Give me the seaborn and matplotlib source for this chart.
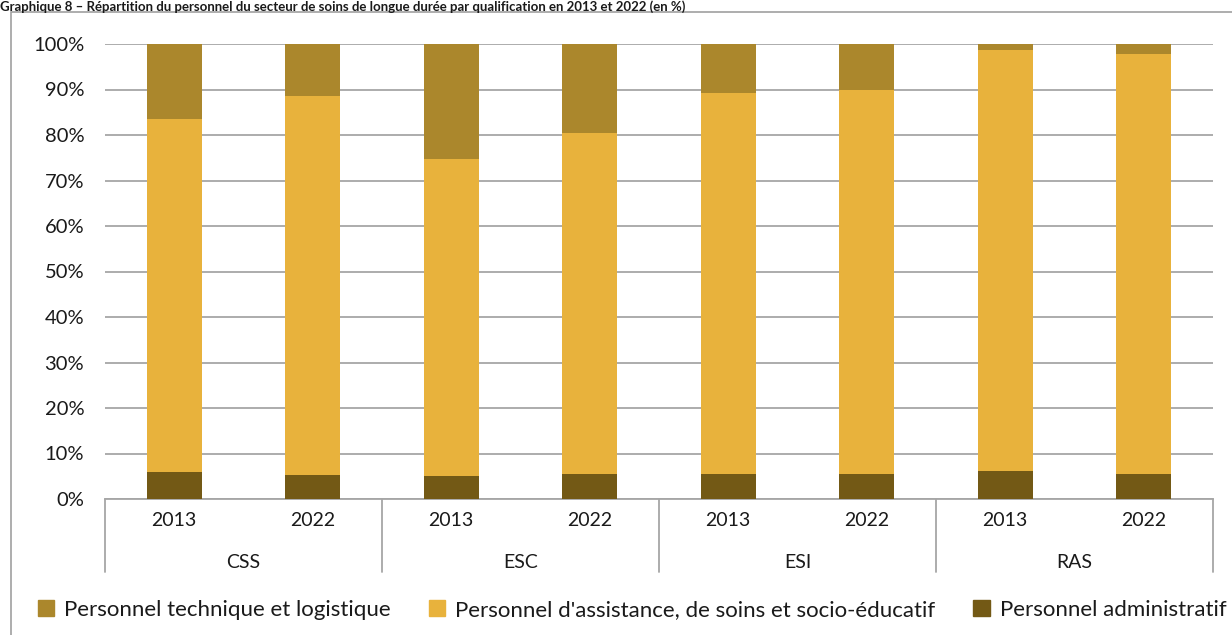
import pandas as pd
import numpy as np
import matplotlib.pyplot as plt
import matplotlib.patches as mpatches
from matplotlib.lines import Line2D
import seaborn as sns

sns.set_theme(style='white')
plt.rcParams['font.family'] = ['Lato', 'DejaVu Sans']

# data (% of staff)
groups = ["CSS", "CSS", "ESC", "ESC", "ESI", "ESI", "RAS", "RAS"]
years = ["2013", "2022", "2013", "2022", "2013", "2022", "2013", "2022"]
admin = [5.9, 5.2, 5.0, 5.5, 5.5, 5.5, 6.2, 5.5]
soins = [77.7, 83.3, 69.8, 74.9, 83.7, 84.4, 92.5, 92.3]
tech = [16.4, 11.5, 25.2, 19.6, 10.8, 10.1, 1.3, 2.2]

series = ["Personnel technique et logistique",
          "Personnel d'assistance, de soins et socio-éducatif",
          "Personnel administratif"]
colors = ["#AB872C", "#E8B23C", "#735915"]

df = pd.DataFrame({"group": groups, "year": years,
                   "admin": admin, "soins": soins, "tech": tech})
df["key"] = df["group"] + "_" + df["year"]
# stacked tops
df["top_admin"] = df["admin"]
df["top_soins"] = df["admin"] + df["soins"]
df["top_tech"] = df["admin"] + df["soins"] + df["tech"]

fig = plt.figure(figsize=(12.32, 6.35), dpi=100)
ax = fig.add_axes([105/1232, 1-499/635, (1213-105)/1232, 455/635])

for col, c in zip(["top_tech", "top_soins", "top_admin"], colors):
    sns.barplot(data=df, x="key", y=col, color=c, width=0.4,
                saturation=1, linewidth=0, ax=ax, zorder=3)

ax.set_ylim(0, 100)
ax.set_xlim(-0.5, len(df) - 0.5)
ax.set_yticks(np.arange(0, 101, 10))
ax.set_yticklabels([f"{v}%" for v in range(0, 101, 10)])
ax.yaxis.grid(True, color="#A6A6A6", lw=1.3, zorder=0)
ax.set_axisbelow(True)
for s in ["left", "right", "top"]:
    ax.spines[s].set_visible(False)
ax.spines["bottom"].set_color("#A6A6A6")
ax.spines["bottom"].set_linewidth(1.3)
ax.tick_params(axis="y", length=0, pad=15, labelsize=14.5, labelcolor="#1a1a1a")
ax.tick_params(axis="x", length=0, pad=9, labelsize=14, labelcolor="#1a1a1a")
ax.set_xticks(range(len(df)))
ax.set_xticklabels(df["year"])
ax.set_xlabel("")
ax.set_ylabel("")

# group labels and separators
trans = ax.get_xaxis_transform()
for b in [-0.5, 1.5, 3.5, 5.5, 7.5]:
    ax.add_line(Line2D([b, b], [0, -73/455], transform=trans, color="#A6A6A6",
                       lw=1.3, clip_on=False))
for i, g in enumerate(["CSS", "ESC", "ESI", "RAS"]):
    ax.text(2*i + 0.5, -63/455, g, transform=trans, ha="center", va="center",
            fontsize=14, color="#1a1a1a")

handles = [mpatches.Patch(color=c, label=l) for c, l in zip(colors, series)]
fig.legend(handles=handles, loc="center", bbox_to_anchor=(0.513, 1-610/635),
           ncol=3, frameon=False, fontsize=16, handlelength=0.75, handleheight=0.75,
           handletextpad=0.45, columnspacing=1.7, labelcolor="#1a1a1a")

# outer frame
fig.add_artist(mpatches.Rectangle((11/1232, -0.02), 1.1, 1-12/635+0.02,
                                  transform=fig.transFigure, fill=False,
                                  edgecolor="#A0A0A0", lw=1.2))

fig.text(0.0, 1.0, "Graphique 8 – Répartition du personnel du secteur de soins de longue durée "
         "par qualification en 2013 et 2022 (en %)", ha="left", va="top",
         fontsize=9.5, fontweight="bold", color="#1a1a1a")

fig.savefig("out.png", dpi=100)
